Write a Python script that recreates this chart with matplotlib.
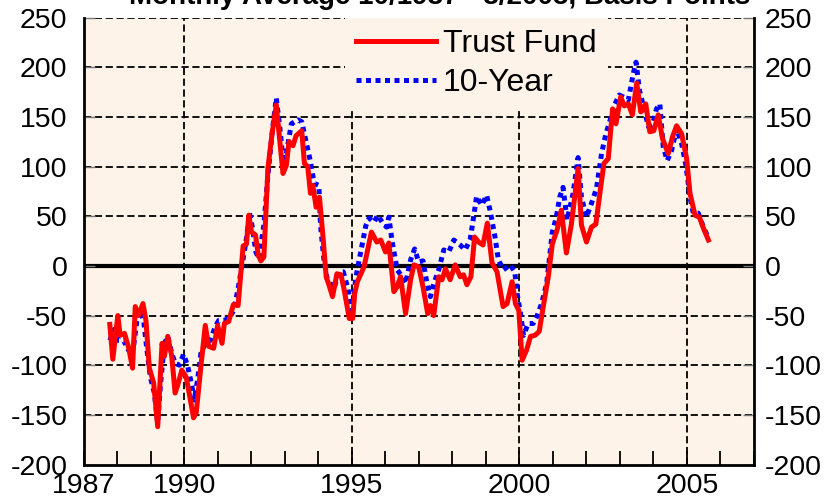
import numpy as np
import matplotlib
matplotlib.use("Agg")
from matplotlib import pyplot as plt
from matplotlib.transforms import ScaledTranslation

plt.rcParams['font.family'] = ['Liberation Sans', 'DejaVu Sans']
plt.rcParams['axes.unicode_minus'] = False

# Trust Fund spread (red), vertices
tf_years = [1987.77, 1987.86, 1988.01, 1988.08, 1988.21, 1988.33, 1988.45, 1988.53, 1988.63, 1988.76,
            1988.85, 1988.95, 1989.08, 1989.20, 1989.33, 1989.40, 1989.50, 1989.62, 1989.72, 1989.79,
            1989.92, 1990.05, 1990.15, 1990.27, 1990.35, 1990.49, 1990.62, 1990.72, 1990.87, 1990.99,
            1991.12, 1991.19, 1991.32, 1991.46, 1991.60, 1991.75, 1991.85, 1991.92, 1992.00, 1992.12,
            1992.20, 1992.28, 1992.37, 1992.49, 1992.61, 1992.74, 1992.84, 1992.94, 1993.04, 1993.12,
            1993.24, 1993.33, 1993.50, 1993.58, 1993.68, 1993.76, 1993.83, 1993.93, 1994.03, 1994.13,
            1994.23, 1994.32, 1994.42, 1994.55, 1994.67, 1994.76, 1994.92, 1995.02, 1995.08, 1995.16,
            1995.36, 1995.58, 1995.74, 1995.86, 1996.00, 1996.10, 1996.25, 1996.35, 1996.45, 1996.60,
            1996.75, 1996.85, 1996.99, 1997.12, 1997.26, 1997.34, 1997.44, 1997.59, 1997.69, 1997.79,
            1997.93, 1998.08, 1998.23, 1998.33, 1998.43, 1998.55, 1998.66, 1998.78, 1998.91, 1999.04,
            1999.18, 1999.33, 1999.51, 1999.63, 1999.78, 1999.88, 1999.98, 2000.08, 2000.21, 2000.33,
            2000.46, 2000.59, 2000.71, 2000.86, 2000.98, 2001.13, 2001.25, 2001.40, 2001.55, 2001.75,
            2001.85, 2002.00, 2002.15, 2002.28, 2002.40, 2002.52, 2002.65, 2002.78, 2002.88, 2003.02,
            2003.13, 2003.25, 2003.37, 2003.50, 2003.62, 2003.77, 2003.89, 2004.01, 2004.14, 2004.27,
            2004.44, 2004.57, 2004.69, 2004.84, 2004.99, 2005.09, 2005.24, 2005.37, 2005.49, 2005.64]
tf_vals = [-59, -94, -50, -70, -68, -82, -103, -41, -50, -38,
           -55, -103, -118, -162, -78, -91, -71, -91, -128, -121,
           -105, -112, -130, -153, -148, -101, -60, -81, -83, -60,
           -78, -58, -56, -39, -40, 20, 22, 51, 34, 31,
           11, 5, 9, 98, 132, 162, 128, 93, 101, 125,
           121, 131, 136, 103, 100, 73, 81, 59, 69, 31,
           -11, -20, -31, -8, -9, -23, -53, -53, -28, -16,
           -1, 34, 24, 26, 14, 23, -26, -21, -11, -48,
           -14, 1, -1, -21, -48, -40, -50, -11, -14, -3,
           -14, 1, -11, -9, -19, -11, 29, 24, 21, 43,
           3, -6, -41, -38, -16, -38, -45, -95, -85, -71,
           -70, -66, -41, -11, 22, 37, 56, 13, 42, 98,
           41, 24, 39, 42, 73, 103, 108, 158, 143, 170,
           161, 163, 152, 184, 155, 163, 135, 136, 152, 128,
           113, 130, 141, 133, 108, 73, 51, 49, 38, 26]

# 10-Year spread (blue dotted)
ty_years = [1987.77, 1987.90, 1988.03, 1988.18, 1988.33, 1988.48, 1988.58, 1988.68, 1988.78, 1988.88,
            1988.98, 1989.10, 1989.20, 1989.28, 1989.40, 1989.50, 1989.62, 1989.72, 1989.85, 1989.97,
            1990.09, 1990.22, 1990.29, 1990.39, 1990.49, 1990.62, 1990.77, 1990.92, 1991.02, 1991.17,
            1991.32, 1991.47, 1991.60, 1991.75, 1991.85, 1991.94, 1992.03, 1992.13, 1992.22, 1992.37,
            1992.49, 1992.63, 1992.74, 1992.84, 1992.97, 1993.09, 1993.19, 1993.39, 1993.50, 1993.63,
            1993.76, 1993.87, 1994.01, 1994.06, 1994.16, 1994.26, 1994.46, 1994.61, 1994.74, 1994.88,
            1995.01, 1995.11, 1995.26, 1995.41, 1995.51, 1995.66, 1995.77, 1995.90, 1996.03, 1996.10,
            1996.20, 1996.35, 1996.50, 1996.60, 1996.75, 1996.87, 1996.99, 1997.12, 1997.24, 1997.34,
            1997.44, 1997.59, 1997.74, 1997.89, 1998.04, 1998.23, 1998.38, 1998.53, 1998.63, 1998.72,
            1998.87, 1999.02, 1999.12, 1999.27, 1999.37, 1999.52, 1999.72, 1999.86, 1999.93, 2000.03,
            2000.12, 2000.26, 2000.41, 2000.53, 2000.66, 2000.81, 2000.91, 2000.98, 2001.10, 2001.20,
            2001.30, 2001.42, 2001.60, 2001.75, 2001.85, 2002.00, 2002.15, 2002.30, 2002.45, 2002.58,
            2002.70, 2002.85, 2002.98, 2003.10, 2003.25, 2003.40, 2003.48, 2003.58, 2003.72, 2003.85,
            2003.97, 2004.09, 2004.19, 2004.29, 2004.41, 2004.54, 2004.69, 2004.84, 2004.97, 2005.09,
            2005.19, 2005.34, 2005.49, 2005.64]
ty_vals = [-75, -64, -75, -75, -85, -81, -55, -45, -55, -85,
           -112, -128, -158, -121, -78, -71, -88, -98, -100, -89,
           -100, -121, -135, -115, -88, -78, -75, -61, -55, -55,
           -53, -45, -23, 7, 28, 53, 38, 14, 7, 41,
           91, 138, 169, 141, 98, 123, 143, 147, 145, 125,
           105, 83, 81, 41, 7, -13, -23, -6, -6, -23,
           -50, -13, 14, 40, 48, 44, 51, 44, 39, 49,
           24, -4, -11, -18, 6, 17, 4, 5, -18, -31,
           -18, -4, 16, 14, 26, 21, 16, 27, 49, 70,
           61, 71, 56, 29, 6, -4, 1, -6, -28, -48,
           -70, -58, -58, -50, -38, -18, 12, 34, 49, 69,
           79, 46, 73, 109, 69, 49, 63, 78, 113, 133,
           146, 163, 172, 170, 167, 194, 205, 177, 158, 140,
           142, 158, 163, 120, 106, 116, 138, 123, 101, 69,
           53, 53, 39, 28]

label_years = [1987, 1990, 1995, 2000, 2005]
y_ticks = [-200, -150, -100, -50, 0, 50, 100, 150, 200, 250]
title = "Monthly Average 10/1987 - 8/2005, Basis Points"

fig = plt.figure(figsize=(8.3, 5.03), dpi=100)
ax = fig.add_axes([0.1012, 0.0765, 0.8072, 0.8887])
ax.set_facecolor('#FEF3E8')

ax.set_xlim(1987, 2007)
ax.set_ylim(-200, 250)

# dashed grid, solid zero line
for v in y_ticks[1:]:
    if v != 0:
        ax.axhline(v, color='black', lw=1.3, ls=(0, (4, 2)), zorder=1)
for yr in label_years[1:]:
    ax.axvline(yr, color='black', lw=1.3, ls=(0, (4, 2)), zorder=1)
ax.axhline(0, color='black', lw=3, zorder=1)

blue, = ax.plot(ty_years, ty_vals, color='#0000FF', lw=3.6, ls=(0, (1, 0.9)),
                dash_capstyle='butt', zorder=2, label='10-Year')
red, = ax.plot(tf_years, tf_vals, color='#FF0000', lw=3.6, zorder=3,
               solid_joinstyle='round', label='Trust Fund')

ax.set_xticks(label_years)
ax.set_xticks(range(1987, 2008), minor=True)
ax.set_yticks(y_ticks)
ax.tick_params(axis='x', which='both', direction='in', length=10, width=1.3,
               labelsize=20.5, pad=6, top=False)
ax.tick_params(axis='y', direction='in', length=8, width=1, color='#777777',
               labelsize=20.5, pad=12, left=True, right=True,
               labelleft=True, labelright=True)
# right-hand labels sit a little closer to the frame
shift = ScaledTranslation(-4 / 72, 0, fig.dpi_scale_trans)
for t in ax.yaxis.get_major_ticks():
    t.label2.set_transform(t.label2.get_transform() + shift)

for side in ['left', 'bottom', 'right']:
    ax.spines[side].set_linewidth(2)
ax.spines['top'].set_visible(False)

leg = ax.legend(handles=[red, blue], loc='upper left', bbox_to_anchor=(0.39, 1.0),
                fontsize=23, frameon=True, facecolor='#FEF3E8', edgecolor='none',
                framealpha=1, fancybox=False, handlelength=2.5, handletextpad=0.2,
                labelspacing=0.3, borderpad=0.35, borderaxespad=0.0)
leg.set_zorder(5)

# title is clipped by the top edge, as in the source image
fig.text(0.53, 1 - 4 / 503, title, ha='center', va='baseline', fontsize=20,
         fontweight='bold')

fig.savefig('out.png', dpi=100)
